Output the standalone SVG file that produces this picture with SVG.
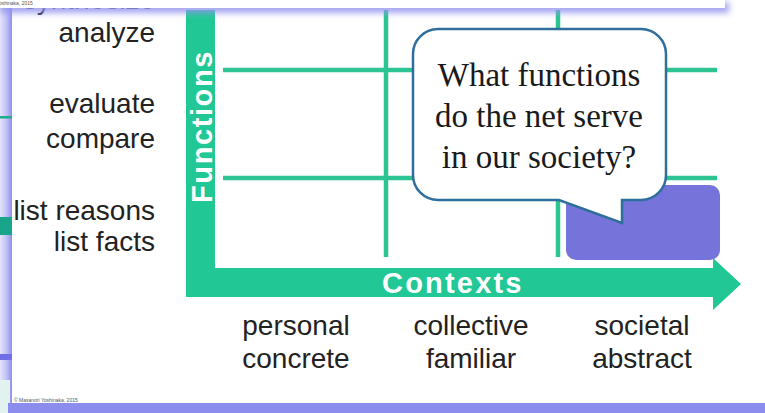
<svg xmlns="http://www.w3.org/2000/svg" width="765" height="413" viewBox="0 0 765 413">
<defs>
<style>
.lbl{font-family:"Liberation Sans",Arial,sans-serif;font-size:28px;fill:#222}
.axis{font-family:"Liberation Sans",Arial,sans-serif;font-size:29px;font-weight:bold;fill:#fff}
.q{font-family:"Liberation Serif","Times New Roman",serif;font-size:33px;fill:#1a1a1a;text-anchor:middle}
.grid{stroke:#2cc493;stroke-width:4.5;fill:none}
.tiny{font-family:"Liberation Sans",Arial,sans-serif;font-size:5px;fill:#555}
</style>
<linearGradient id="lside" x1="0" y1="0" x2="1" y2="0">
<stop offset="0" stop-color="#e4e4fb"/>
<stop offset="0.5" stop-color="#c4c4f6"/>
<stop offset="1" stop-color="#8e8eee"/>
</linearGradient>
<filter id="blur" x="-10%" y="-100%" width="120%" height="300%">
<feGaussianBlur stdDeviation="3"/>
</filter>
</defs>
<rect width="765" height="413" fill="#fff"/>
<!-- left strip -->
<rect x="0" y="0" width="12" height="413" fill="url(#lside)"/>
<rect x="0" y="116" width="12" height="2.5" fill="#1fae8a"/>
<rect x="0" y="217" width="12" height="18" fill="#19a589"/>
<rect x="0" y="354" width="12" height="6" fill="#7070e6"/>
<rect x="0" y="380" width="10" height="33" fill="#e2f2ee"/>
<!-- bottom strip -->
<rect x="8" y="403" width="757" height="10" fill="#8c8cee"/>
<text class="tiny" x="14" y="402">© Masanori Yoshinaka, 2015</text>

<!-- cut-off label behind top strip -->
<text class="lbl" x="155" y="9" text-anchor="end">synthesize</text>

<!-- connectors / grid -->
<g id="grid">
<line class="grid" x1="386" y1="10" x2="386" y2="257"/>
<line class="grid" x1="558" y1="10" x2="558" y2="257"/>
<line class="grid" x1="223" y1="70" x2="717" y2="70"/>
<line class="grid" x1="223" y1="178" x2="717" y2="178"/>
</g>

<g id="highlight">
<rect x="566" y="185" width="154" height="75" rx="10" fill="#7673da"/>
</g>

<g id="axis-functions">
<rect x="186" y="10" width="29" height="287" fill="#22c796"/>
<text class="axis" transform="translate(212,203) rotate(-90)" letter-spacing="1.6">Functions</text>
</g>

<g id="axis-contexts">
<path d="M186,268 H713 V258 L741,284 L713,310 V297 H186 Z" fill="#22c796"/>
<text class="axis" x="382" y="293" letter-spacing="2.2">Contexts</text>
</g>

<g id="bubble">
<path d="M438,29 H641 A25,25 0 0 1 666,54 V175 A25,25 0 0 1 641,200 H622 V223 L559,200 H438 A25,25 0 0 1 413,175 V54 A25,25 0 0 1 438,29 Z" fill="#fff" stroke="#2f6f9c" stroke-width="2.5"/>
<text class="q" x="539" y="86">What functions</text>
<text class="q" x="539" y="127">do the net serve</text>
<text class="q" x="539" y="168">in our society?</text>
</g>

<g id="functions-labels">
<text class="lbl" x="155" y="42" text-anchor="end">analyze</text>
<text class="lbl" x="155" y="113" text-anchor="end">evaluate</text>
<text class="lbl" x="155" y="148" text-anchor="end">compare</text>
<text class="lbl" x="155" y="220" text-anchor="end">list reasons</text>
<text class="lbl" x="155" y="251" text-anchor="end">list facts</text>
</g>

<g id="contexts-labels">
<text class="lbl" x="296" y="335" text-anchor="middle">personal</text>
<text class="lbl" x="296" y="368" text-anchor="middle">concrete</text>
<text class="lbl" x="471" y="335" text-anchor="middle">collective</text>
<text class="lbl" x="471" y="368" text-anchor="middle">familiar</text>
<text class="lbl" x="642" y="335" text-anchor="middle">societal</text>
<text class="lbl" x="642" y="368" text-anchor="middle">abstract</text>
</g>

<!-- overlapping slide strip at top -->
<rect x="0" y="2" width="729" height="11" fill="#9494ef" opacity="0.85" filter="url(#blur)"/>
<rect x="0" y="0" width="725" height="8" fill="#fff"/>
<text class="tiny" x="-4" y="5">Yoshinaka, 2015</text>
</svg>
